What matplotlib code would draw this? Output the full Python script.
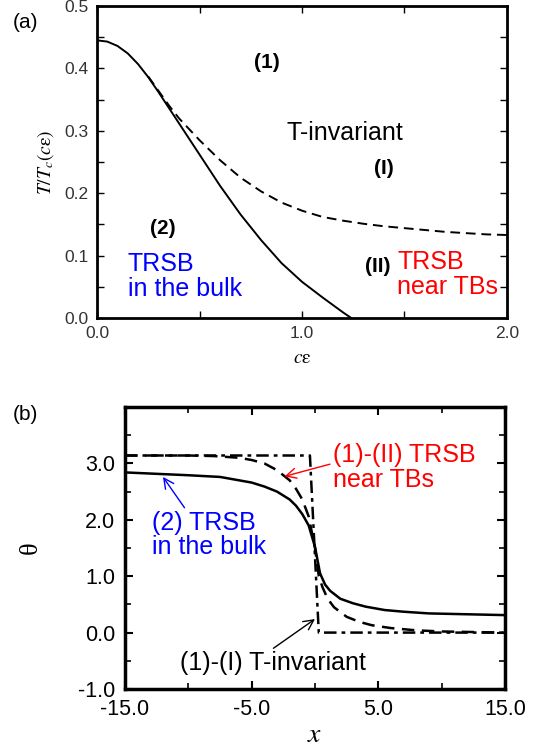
import matplotlib
matplotlib.use("Agg")
import matplotlib.pyplot as plt

plt.rcParams['font.family'] = ['Liberation Sans', 'DejaVu Sans']
plt.rcParams['mathtext.fontset'] = 'stix'

# (a) phase diagram
ce_solid = [0, 0.05, 0.1, 0.15, 0.2, 0.25, 0.3, 0.35, 0.4, 0.5, 0.6, 0.7, 0.8, 0.9, 1.0, 1.1, 1.2, 1.24]
t_solid = [0.445, 0.443, 0.436, 0.424, 0.407, 0.386, 0.362, 0.337, 0.312, 0.262, 0.212,
           0.166, 0.125, 0.088, 0.058, 0.033, 0.009, 0.0]
ce_dash = [0.25, 0.3, 0.35, 0.4, 0.5, 0.6, 0.7, 0.8, 0.9, 1.0, 1.1, 1.2, 1.3, 1.4, 1.5,
           1.6, 1.7, 1.8, 1.9, 2.0]
t_dash = [0.387, 0.364, 0.341, 0.320, 0.285, 0.253, 0.225, 0.203, 0.185, 0.172, 0.162,
          0.156, 0.151, 0.147, 0.144, 0.141, 0.138, 0.136, 0.134, 0.133]

# (b) phase profiles theta(x)
x_bulk = [-15, -12, -10, -7.5, -5, -4, -3, -2, -1.5, -1, -0.5, 0, 0.4, 0.8, 1.2, 2, 3, 4,
          5.5, 7, 9, 11, 13, 15]
th_bulk = [2.84, 2.81, 2.79, 2.76, 2.66, 2.59, 2.50, 2.36, 2.25, 2.10, 1.90, 1.52, 1.05,
           0.85, 0.74, 0.60, 0.52, 0.46, 0.40, 0.37, 0.34, 0.33, 0.32, 0.31]
x_tb = [-15, -10, -8, -6, -5, -4, -3, -2, -1.5, -1, -0.5, 0, 0.3, 0.6, 1, 1.5, 2.5, 3.5,
        4.5, 6, 8, 10, 12.5, 15]
th_tb = [3.14, 3.14, 3.13, 3.10, 3.06, 3.00, 2.88, 2.70, 2.55, 2.36, 2.06, 1.50, 1.00,
         0.80, 0.60, 0.45, 0.28, 0.19, 0.13, 0.08, 0.04, 0.02, 0.01, 0.0]
x_inv = [-15, -0.4, 0.3, 15]
th_inv = [3.14, 3.14, 0.0, 0.0]

fig = plt.figure(figsize=(5.39, 7.53), dpi=100)

# ---- panel (a)
ax1 = fig.add_axes([0.180, 0.5777, 0.7606, 0.4143])
ax1.plot(ce_solid, t_solid, color='black', lw=1.4)
ax1.plot(ce_dash, t_dash, color='black', lw=1.4, linestyle=(0, (5, 3)))
ax1.set_xlim(0, 2.0)
ax1.set_ylim(0, 0.5)
ax1.set_xticks([0, 1.0, 2.0])
ax1.set_xticks([0.5, 1.5], minor=True)
ax1.set_xticklabels(['0.0', '1.0', '2.0'])
ax1.set_yticks([0, 0.1, 0.2, 0.3, 0.4, 0.5])
ax1.set_yticks([0.05, 0.15, 0.25, 0.35, 0.45], minor=True)
ax1.set_yticklabels(['0.0', '0.1', '0.2', '0.3', '0.4', '0.5'])
ax1.tick_params(which='both', direction='in', top=True, right=True, length=5, width=1,
                labelsize=12.5, labelcolor='#333333', pad=6)
for s in ax1.spines.values():
    s.set_linewidth(2)
ax1.set_ylabel(r'$T/T_c(c\mathrm{\epsilon})$', fontsize=14, labelpad=6)
ax1.set_xlabel(r'$c\mathrm{\epsilon}$', fontsize=14, labelpad=6)

ax1.text(0.83, 0.41, '(1)', fontsize=15, fontweight='bold', ha='center', va='center')
ax1.text(1.21, 0.296, 'T-invariant', fontsize=18, ha='center', va='center')
ax1.text(1.40, 0.24, '(I)', fontsize=15, fontweight='bold', ha='center', va='center')
ax1.text(0.32, 0.144, '(2)', fontsize=15, fontweight='bold', ha='center', va='center')
ax1.text(0.15, 0.067, 'TRSB\nin the bulk', fontsize=18, color='blue', ha='left',
         va='center', linespacing=1.05)
ax1.text(1.37, 0.082, '(II)', fontsize=15, fontweight='bold', ha='center', va='center')
ax1.text(1.465, 0.069, 'TRSB\nnear TBs', fontsize=18, color='red', ha='left',
         va='center', linespacing=1.05)
fig.text(0.024, 0.97, '(a)', fontsize=15, ha='left', va='center')

# ---- panel (b)
ax2 = fig.add_axes([0.2319, 0.085, 0.705, 0.3745])
ax2.plot(x_bulk, th_bulk, color='black', lw=1.8)
ax2.plot(x_tb, th_tb, color='black', lw=1.8, linestyle=(0, (5, 3)))
ax2.plot(x_inv, th_inv, color='black', lw=1.8, linestyle=(0, (5, 2, 1.5, 2)))
ax2.set_xlim(-15, 15)
ax2.set_ylim(-1, 4)
ax2.set_xticks([-15, -5, 5, 15])
ax2.set_xticks([-10, 0, 10], minor=True)
ax2.set_xticklabels(['-15.0', '-5.0', '5.0', '15.0'])
ax2.set_yticks([-1, 0, 1, 2, 3])
ax2.set_yticks([-0.5, 0.5, 1.5, 2.5, 3.5], minor=True)
ax2.set_yticklabels(['-1.0', '0.0', '1.0', '2.0', '3.0'])
ax2.tick_params(which='major', direction='in', top=True, right=True, length=6, width=1.5,
                labelsize=15.5, pad=7)
ax2.tick_params(which='minor', direction='in', top=True, right=True, length=4, width=1.2)
for s in ax2.spines.values():
    s.set_linewidth(2.5)
ax2.set_ylabel('θ', fontsize=19, family='Liberation Serif', labelpad=26)
ax2.set_xlabel('$x$', fontsize=20, labelpad=2)

ax2.annotate('(1)-(II) TRSB\nnear TBs', xy=(-2.4, 2.77), xytext=(1.4, 2.93),
             fontsize=18, color='red', ha='left', va='center', linespacing=1.05,
             arrowprops=dict(arrowstyle='->', color='red', lw=1, shrinkA=0, shrinkB=0,
                             relpos=(0, 0.58)))
ax2.annotate('(2) TRSB\nin the bulk', xy=(-12.0, 2.76), xytext=(-12.85, 1.73),
             fontsize=18, color='blue', ha='left', va='center', linespacing=1.05,
             arrowprops=dict(arrowstyle='->', color='blue', lw=1, shrinkA=0, shrinkB=0,
                             relpos=(0.30, 1.0)))
ax2.annotate('(1)-(I) T-invariant', xy=(0.0, 0.24), xytext=(-3.3, -0.54),
             fontsize=18, color='black', ha='center', va='center',
             arrowprops=dict(arrowstyle='->', color='black', lw=1, shrinkA=0, shrinkB=0,
                             relpos=(0.48, 1.0)))
fig.text(0.024, 0.449, '(b)', fontsize=15, ha='left', va='center')

fig.savefig('out.png', dpi=100)
